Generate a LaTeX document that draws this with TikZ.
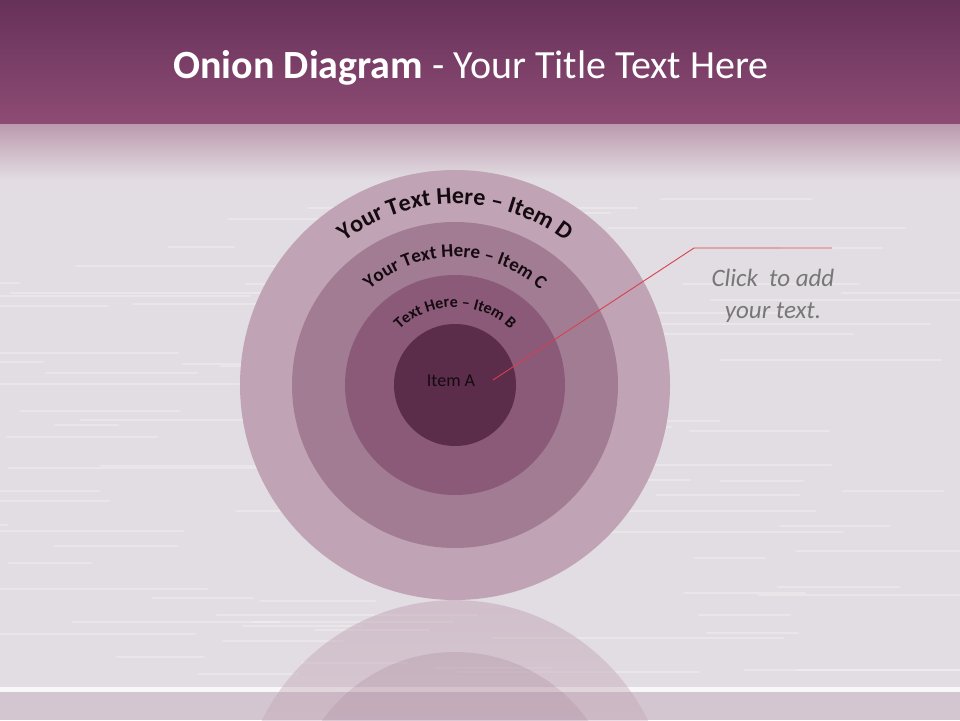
\documentclass[tikz,border=0pt]{standalone}
\usepackage{fontspec}
\setmainfont{Carlito}
\usetikzlibrary{decorations.text,fadings}

\definecolor{bandtop}{HTML}{66315A}
\definecolor{bandbot}{HTML}{8E4C74}
\definecolor{slidebg}{HTML}{E2DDE2}
\definecolor{floorbg}{HTML}{D4C6D0}
\definecolor{ringD}{HTML}{C0A3B4}
\definecolor{ringC}{HTML}{A27C93}
\definecolor{ringB}{HTML}{8A5A78}
\definecolor{ringA}{HTML}{5B2D4A}
\definecolor{pointer}{HTML}{D8404E}
\definecolor{notegray}{HTML}{777777}
\definecolor{inktext}{HTML}{140A10}

\tikzset{
  ring/.style={circle, draw=none, inner sep=0pt},
  ringtext/.style={decorate, decoration={text along path, text align=center, text color=inktext, text={#1}}},
}

\begin{document}
\begin{tikzpicture}[x=1pt, y=1pt]
    \useasboundingbox (0,0) rectangle (960,720);

    % slide background
    \fill[slidebg] (0,0) rectangle (960,720);
    \pgfmathsetseed{11}
    \foreach \i in {1,...,90} {
        \pgfmathrandominteger{\ya}{45}{540}
        \pgfmathrandominteger{\xa}{-100}{850}
        \pgfmathrandominteger{\la}{60}{300}
        \draw[white, opacity=0.25, line width=1.6pt, line cap=round] (\xa,\ya) -- ++(\la,0);
    }
    \shade[top color=bandtop, bottom color=bandbot] (0,595) rectangle (960,720);
    \shade[top color=bandbot!45!slidebg, bottom color=slidebg] (0,540) rectangle (960,595);
    \fill[floorbg] (0,0) rectangle (960,28);
    \fill[white, opacity=0.8] (0,28) rectangle (960,33);

    \node[font=\fontsize{40}{44}\selectfont, text=white] (title) at (471,652)
        {\textbf{Onion Diagram} - Your Title Text Here};

    % reflection
    \begin{scope}
        \clip (0,0) rectangle (960,120);
        \fill[ringD, opacity=0.5, path fading=south] (455,-95) circle (215);
        \fill[ringC, opacity=0.25, path fading=south] (455,-95) circle (163);
    \end{scope}

    % rings
    \node[ring, fill=ringD, minimum size=430] (itemD) at (455,335) {};
    \node[ring, fill=ringC, minimum size=326] (itemC) at (455,335) {};
    \node[ring, fill=ringB, minimum size=220] (itemB) at (455,335) {};
    \node[ring, fill=ringA, minimum size=122] (itemA) at (455,335) {};
    \node[text=inktext, font=\fontsize{18}{20}\selectfont] (labelA) at (451,339) {Item A};

    \path[ringtext={|\bfseries\fontsize{24}{24}\selectfont|Your Text Here – Item D}]
        (itemD.center) ++(170:181) arc[start angle=170, end angle=10, radius=181];
    \path[ringtext={|\bfseries\fontsize{19}{19}\selectfont|Your Text Here – Item C}]
        (itemC.center) ++(170:128) arc[start angle=170, end angle=10, radius=128];
    \path[ringtext={|\bfseries\fontsize{16}{16}\selectfont|Text Here – Item B}]
        (itemB.center) ++(170:78) arc[start angle=170, end angle=10, radius=78];

    % callout
    \coordinate (tip) at (493,340);
    \coordinate (bend) at (694,472);
    \coordinate (lineend) at (832,472);
    \draw[pointer, line width=0.9pt] (tip) -- (bend) -- (lineend);
    \node[align=center, text=notegray, font=\itshape\fontsize{25}{32}\selectfont] (note) at (773,424)
        {Click\ \ to add\\your text.};
\end{tikzpicture}
\end{document}
